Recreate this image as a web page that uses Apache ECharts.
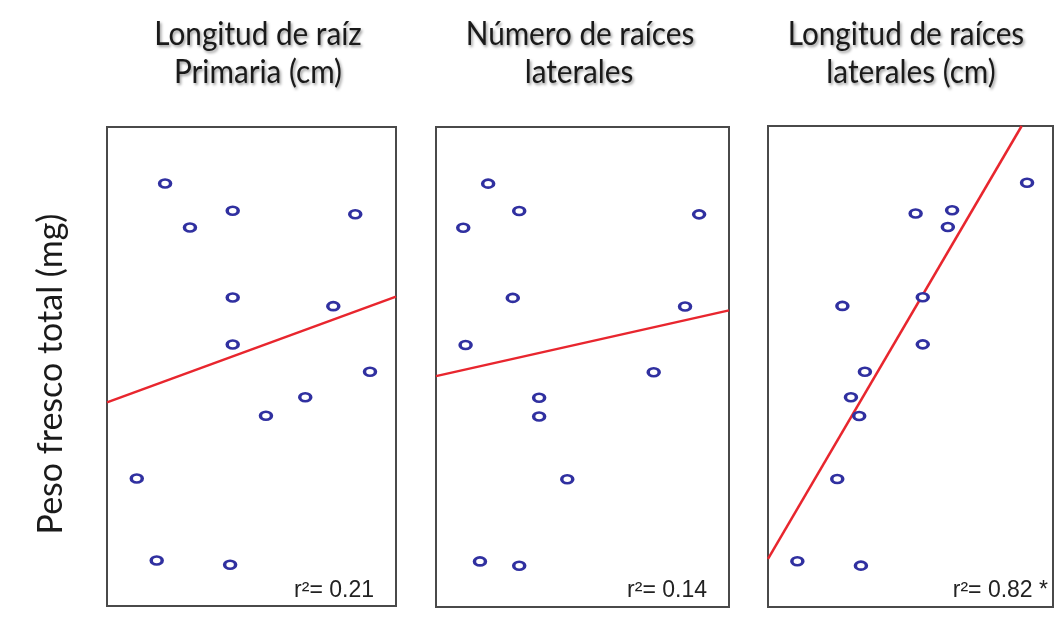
<!DOCTYPE html>
<html>
<head>
<meta charset="utf-8">
<script src="https://cdn.jsdelivr.net/npm/echarts@6/dist/echarts.min.js"></script>
<style>
html,body{margin:0;padding:0;background:#fff;}
#chart{width:1061px;height:631px;}
</style>
</head>
<body>
<div id="chart"></div>
<script>
// Panel titles (two lines each)
const panelTitles = [
  ['Longitud de raíz', 'Primaria (cm)'],
  ['Número de raíces', 'laterales'],
  ['Longitud de raíces', 'laterales (cm)']
];
const yAxisTitle = 'Peso fresco total (mg)';
const r2Labels = ['r²= 0.21', 'r²= 0.14', 'r²= 0.82 *'];

// Shared response: total fresh weight (relative scale 0–100)
const pesoFresco = [88.2, 82.5, 79.0, 81.8, 64.4, 62.6, 54.6, 48.9, 43.6, 39.7, 26.6, 9.5, 8.6];

// Predictors (relative scale 0–100), same order as pesoFresco
const longRaizPrimaria = [20.1, 43.5, 28.7, 85.9, 43.5, 78.3, 43.5, 91.0, 68.6, 55.0, 10.3, 17.2, 42.6];
const numRaicesLat     = [17.8, 28.4, 9.3, 89.8, 26.2, 85.0, 10.1, 74.3, 35.2, 35.2, 44.8, 15.0, 28.4];
const longRaicesLat    = [90.9, 64.6, 63.1, 51.8, 54.3, 26.1, 54.3, 34.0, 29.1, 32.0, 24.3, 10.3, 32.6];

// Regression lines (endpoints)
const fit1 = [[0, 42.5], [100, 64.6]];
const fit2 = [[0, 48.1], [100, 61.8]];
const fit3 = [[0, 10.0], [89, 100]];

const predictors = [longRaizPrimaria, numRaicesLat, longRaicesLat];
const fits = [fit1, fit2, fit3];

const grids = [
  {left: 107, top: 127, width: 289, height: 479},
  {left: 436, top: 127, width: 293, height: 480},
  {left: 768, top: 126, width: 285, height: 481}
];
// title line centres (x) per panel
const titleCenters = [[258, 258], [580, 579], [906, 911]];

const chart = echarts.init(document.getElementById('chart'));
const titleFont = 'Lato, "Open Sans", sans-serif';

const graphics = [];
panelTitles.forEach((lines, i) => {
  lines.forEach((t, j) => {
    graphics.push({
      type: 'text',
      x: titleCenters[i][j], y: j === 0 ? 34 : 72,
      scaleX: 0.9,
      style: {
        text: t, align: 'center', verticalAlign: 'middle',
        font: '33px ' + titleFont, fill: '#1a1a1a',
        textShadowColor: 'rgba(0,0,0,0.4)', textShadowBlur: 3, textShadowOffsetX: 1.5, textShadowOffsetY: 2
      }
    });
  });
});
graphics.push({
  type: 'text', x: 51, y: 374, rotation: Math.PI / 2,
  style: {text: yAxisTitle, align: 'center', verticalAlign: 'middle', font: '34px ' + titleFont, fill: '#1a1a1a'}
});
r2Labels.forEach((t, i) => {
  graphics.push({
    type: 'text',
    x: grids[i].left + grids[i].width - (i === 2 ? 5 : 22),
    y: 591,
    style: {text: t, align: 'right', verticalAlign: 'middle',
      font: '23px "Liberation Sans", Arial, sans-serif', fill: '#222'},
    z: 100
  });
});

const option = {
  backgroundColor: '#ffffff',
  animation: false,
  grid: grids.map(g => Object.assign({show: true, borderColor: '#4a4a4a', borderWidth: 2, backgroundColor: '#fff'}, g)),
  xAxis: grids.map((g, i) => ({
    gridIndex: i, type: 'value', min: 0, max: 100,
    axisLine: {show: false}, axisTick: {show: false}, axisLabel: {show: false}, splitLine: {show: false}
  })),
  yAxis: grids.map((g, i) => ({
    gridIndex: i, type: 'value', min: 0, max: 100,
    axisLine: {show: false}, axisTick: {show: false}, axisLabel: {show: false}, splitLine: {show: false}
  })),
  graphic: graphics,
  series: [].concat(
    fits.map((f, i) => ({
      type: 'line', xAxisIndex: i, yAxisIndex: i, data: f,
      showSymbol: false, symbol: 'none', silent: true,
      lineStyle: {color: '#e8262e', width: 2.5}, z: 2
    })),
    predictors.map((xs, i) => ({
      type: 'scatter', xAxisIndex: i, yAxisIndex: i,
      data: xs.map((x, k) => [x, pesoFresco[k]]),
      symbol: 'circle', symbolSize: [11, 8],
      itemStyle: {color: '#ffffff', borderColor: '#3030a0', borderWidth: 3, opacity: 1},
      z: 3
    }))
  )
};
chart.setOption(option);
</script>
</body>
</html>
